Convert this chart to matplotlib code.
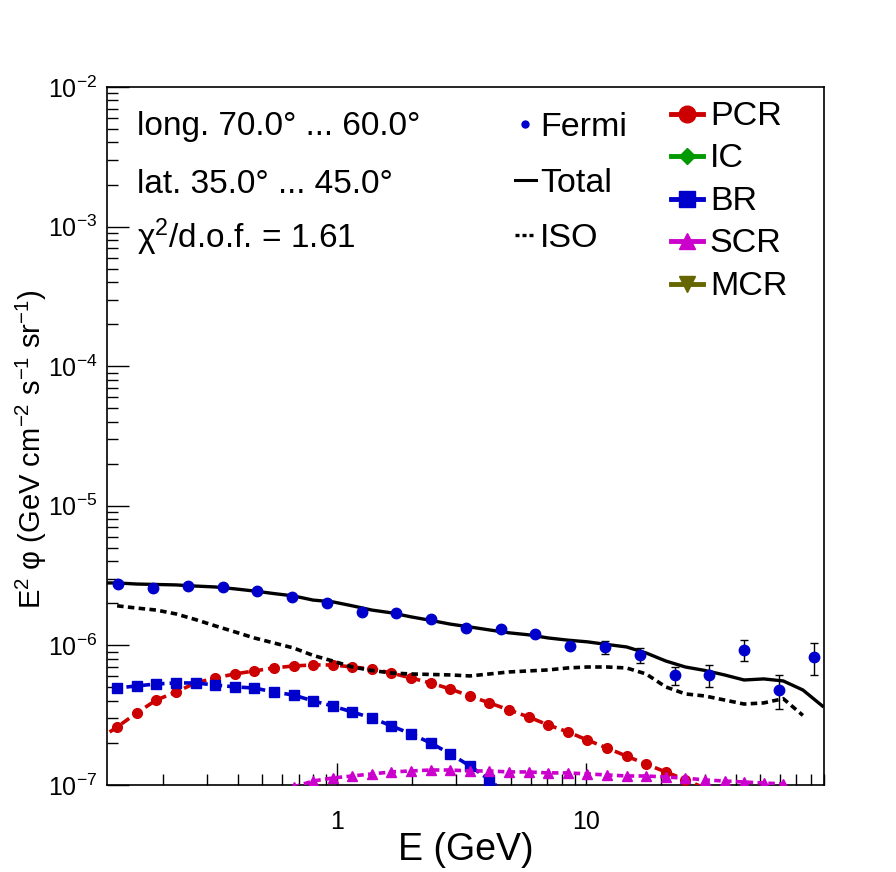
import numpy as np
import matplotlib
matplotlib.use('Agg')
import matplotlib.pyplot as plt
from matplotlib.ticker import LogLocator, NullFormatter

plt.rcParams['font.family'] = ['Liberation Sans', 'DejaVu Sans']
plt.rcParams['mathtext.fontset'] = 'custom'
plt.rcParams['mathtext.rm'] = 'Liberation Sans'
plt.rcParams['mathtext.it'] = 'Liberation Sans:italic'

# Fermi data points
fermi_E = [0.132, 0.182, 0.252, 0.348, 0.477, 0.660, 0.912, 1.26, 1.73, 2.39, 3.30,
           4.56, 6.24, 8.62, 11.9, 16.5, 22.8, 31.2, 43.1, 59.6, 82.4]
fermi_flux = [2.75e-6, 2.59e-6, 2.66e-6, 2.62e-6, 2.45e-6, 2.22e-6, 2.01e-6, 1.73e-6,
              1.71e-6, 1.55e-6, 1.33e-6, 1.31e-6, 1.21e-6, 9.9e-7, 9.7e-7, 8.5e-7,
              6.1e-7, 6.1e-7, 9.3e-7, 4.8e-7, 8.3e-7]
fermi_err = [0.04e-6, 0.04e-6, 0.04e-6, 0.04e-6, 0.04e-6, 0.04e-6, 0.04e-6, 0.04e-6,
             0.04e-6, 0.04e-6, 0.04e-6, 0.04e-6, 0.04e-6, 0.05e-6, 0.10e-6, 0.105e-6,
             0.09e-6, 0.11e-6, 0.155e-6, 0.13e-6, 0.215e-6]

# model energy grid
model_E = [0.1091, 0.1307, 0.1567, 0.1878, 0.2252, 0.2700, 0.3236, 0.3879, 0.4650,
           0.5574, 0.6682, 0.8010, 0.9598, 1.151, 1.379, 1.653, 1.982, 2.376, 2.848,
           3.413, 4.091, 4.904, 5.878, 7.046, 8.445, 10.12, 12.13, 14.55, 17.43,
           20.90, 25.05, 30.02, 35.99, 43.14, 51.71, 61.98, 74.3, 89.0]

total_flux = [2.80e-6, 2.80e-6, 2.75e-6, 2.73e-6, 2.71e-6, 2.66e-6, 2.62e-6, 2.54e-6,
              2.45e-6, 2.35e-6, 2.26e-6, 2.11e-6, 2.05e-6, 1.92e-6, 1.79e-6, 1.71e-6,
              1.60e-6, 1.51e-6, 1.42e-6, 1.355e-6, 1.29e-6, 1.23e-6, 1.19e-6, 1.13e-6,
              1.09e-6, 1.06e-6, 1.015e-6, 9.74e-7, 8.82e-7, 7.73e-7, 7.00e-7, 6.61e-7,
              6.14e-7, 5.65e-7, 5.75e-7, 5.56e-7, 4.79e-7, 3.68e-7]

# ISO starts at the second grid point and stops before the last one
iso_E = model_E[1:37]
iso_flux = [1.92e-6, 1.85e-6, 1.79e-6, 1.68e-6, 1.53e-6, 1.38e-6, 1.25e-6, 1.13e-6,
            1.04e-6, 9.58e-7, 8.47e-7, 7.73e-7, 7.00e-7, 6.61e-7, 6.34e-7, 6.24e-7,
            6.19e-7, 6.14e-7, 6.04e-7, 6.24e-7, 6.45e-7, 6.56e-7, 6.67e-7, 6.89e-7,
            7.00e-7, 7.00e-7, 6.89e-7, 6.24e-7, 5.04e-7, 4.49e-7, 4.34e-7, 4.06e-7,
            3.80e-7, 3.87e-7, 4.15e-7, 3.15e-7]

pcr_E = model_E[0:33]
pcr_flux = [2.10e-7, 2.60e-7, 3.28e-7, 4.06e-7, 4.63e-7, 5.38e-7, 5.84e-7, 6.24e-7,
            6.56e-7, 6.89e-7, 7.12e-7, 7.24e-7, 7.24e-7, 7.00e-7, 6.78e-7, 6.34e-7,
            5.84e-7, 5.38e-7, 4.87e-7, 4.34e-7, 3.87e-7, 3.45e-7, 3.07e-7, 2.69e-7,
            2.40e-7, 2.10e-7, 1.84e-7, 1.61e-7, 1.41e-7, 1.24e-7, 1.09e-7, 9.5e-8, 8.3e-8]

br_E = model_E[0:22]
br_flux = [4.87e-7, 4.95e-7, 5.12e-7, 5.29e-7, 5.38e-7, 5.38e-7, 5.20e-7, 5.04e-7,
           4.95e-7, 4.63e-7, 4.41e-7, 4.00e-7, 3.68e-7, 3.33e-7, 3.02e-7, 2.65e-7,
           2.32e-7, 2.00e-7, 1.67e-7, 1.37e-7, 1.09e-7, 8.3e-8]

scr_E = model_E[10:36]
scr_flux = [9.67e-8, 1.068e-7, 1.122e-7, 1.16e-7, 1.20e-7, 1.24e-7, 1.26e-7, 1.28e-7,
            1.28e-7, 1.26e-7, 1.26e-7, 1.24e-7, 1.24e-7, 1.22e-7, 1.22e-7, 1.20e-7,
            1.18e-7, 1.16e-7, 1.16e-7, 1.14e-7, 1.12e-7, 1.086e-7, 1.068e-7, 1.05e-7,
            1.033e-7, 1.017e-7]

region_text = ['long. 70.0\u00b0 ... 60.0\u00b0', 'lat. 35.0\u00b0 ... 45.0\u00b0',
               '\u03c7$^{2}$/d.o.f. = 1.61']

red = '#cc0000'
green = '#009900'
blue = '#0000cc'
magenta = '#cc00cc'
olive = '#666600'

fig = plt.figure(figsize=(8.96, 8.72), dpi=100)
ax = fig.add_axes([0.1194, 0.0998, 0.8002, 0.8005])

ax.plot(model_E, total_flux, color='black', lw=2.4, zorder=4)
ax.plot(iso_E, iso_flux, color='black', lw=2.6, dashes=(1.8, 1.2), zorder=4)
ax.plot(pcr_E, pcr_flux, color=red, lw=2.6, dashes=(2.6, 1.4), marker='o', ms=7,
        mec=red, mfc=red, zorder=3)
ax.plot(br_E, br_flux, color=blue, lw=2.6, dashes=(2.6, 1.4), marker='s', ms=6.5,
        mec=blue, mfc=blue, zorder=3)
ax.plot(scr_E, scr_flux, color=magenta, lw=2.6, dashes=(1.8, 1.2), marker='^', ms=7,
        mec=magenta, mfc=magenta, zorder=3)
ax.errorbar(fermi_E, fermi_flux, yerr=fermi_err, fmt='o', color=blue, ms=7.5,
            ecolor='black', elinewidth=1, capsize=3, capthick=1, zorder=5)

ax.set_xscale('log')
ax.set_yscale('log')
ax.set_xlim(0.119, 90.3)
ax.set_ylim(1e-7, 1e-2)

ax.set_xticks([1, 10])
ax.set_xticklabels(['1', '10'])
ax.xaxis.set_minor_locator(LogLocator(base=10, subs=np.arange(2, 10)))
ax.xaxis.set_minor_formatter(NullFormatter())
ax.yaxis.set_major_locator(LogLocator(base=10, numticks=10))
ax.yaxis.set_minor_locator(LogLocator(base=10, subs=np.arange(2, 10), numticks=10))
ax.yaxis.set_minor_formatter(NullFormatter())

ax.tick_params(which='both', direction='in', top=False, right=False, width=1)
ax.tick_params(which='major', length=16, labelsize=18)
ax.tick_params(which='minor', length=8)
ax.tick_params(axis='x', which='major', pad=18)
ax.tick_params(axis='y', which='major', pad=7)
for s in ax.spines.values():
    s.set_linewidth(1.2)

ax.set_xlabel('E (GeV)', fontsize=27, va='center')
ax.xaxis.set_label_coords(0.5, -0.093)
ax.set_ylabel('E$^{2}$ \u03c6 (GeV cm$^{-2}$ s$^{-1}$ sr$^{-1}$)', fontsize=21, va='center')
ax.yaxis.set_label_coords(-0.105, 0.481)

text_y = [0.931, 0.848, 0.769]
for t, y in zip(region_text, text_y):
    ax.text(0.042, y, t, transform=ax.transAxes, fontsize=24, va='baseline')

# legend, left column
tr = ax.transAxes
def ax_x(px):
    return (px - 107) / 717.0
def ax_y(py):
    return (785 - py) / 698.0

ax.plot([ax_x(525)], [ax_y(124)], 'o', color=blue, ms=5, transform=tr, clip_on=False)
ax.plot([ax_x(515), ax_x(536)], [ax_y(180)] * 2, color='black', lw=2.2, transform=tr, clip_on=False)
ax.plot([ax_x(515), ax_x(536)], [ax_y(235)] * 2, color='black', lw=2.4, dashes=(1.2, 0.9),
        transform=tr, clip_on=False)
for lab, py in zip(['Fermi', 'Total', 'ISO'], [136, 192, 247]):
    ax.text(ax_x(540), ax_y(py), lab, transform=tr, fontsize=24.5, va='baseline')

# legend, right column
leg_labels = ['PCR', 'IC', 'BR', 'SCR', 'MCR']
leg_colors = [red, green, blue, magenta, olive]
leg_markers = ['o', 'D', 's', '^', 'v']
leg_sizes = [12, 8, 12, 11, 11]
leg_y = [114, 156, 199, 241, 284]
for lab, c, m, ms, py in zip(leg_labels, leg_colors, leg_markers, leg_sizes, leg_y):
    ax.plot([ax_x(671), ax_x(703)], [ax_y(py)] * 2, color=c, lw=3.5, transform=tr, clip_on=False)
    ax.plot([ax_x(687)], [ax_y(py)], marker=m, color=c, ms=ms, transform=tr, clip_on=False)
    ax.text(ax_x(710), ax_y(py + 11), lab, transform=tr, fontsize=24.5, va='baseline')

fig.savefig('out.png', dpi=100)
